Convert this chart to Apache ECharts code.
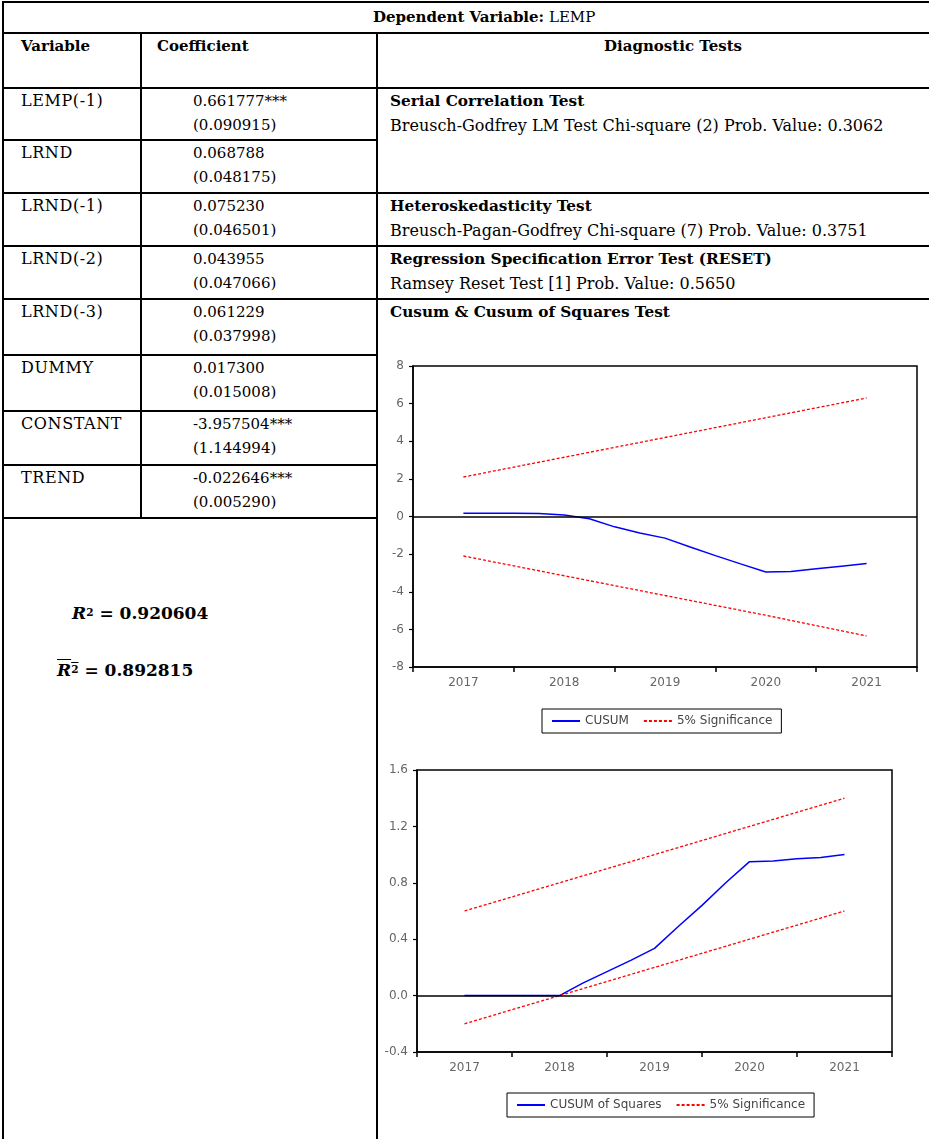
<!DOCTYPE html>
<html><head><meta charset="utf-8">
<script src="https://cdn.jsdelivr.net/npm/echarts@6/dist/echarts.min.js"></script>
<style>
html,body{margin:0;padding:0;background:#fff;}
#page{position:relative;width:929px;height:1139px;overflow:hidden;font-family:"DejaVu Serif",serif;font-size:15px;color:#000;}
.h{position:absolute;height:2px;background:#000;}
.v{position:absolute;width:2px;background:#000;}
.t{position:absolute;white-space:nowrap;line-height:20px;}
.b{font-weight:bold;}
.bt{font-weight:bold;font-size:15.3px;}
.w{font-size:16px;}
.nm{font-size:16px;letter-spacing:0.6px;}
.r2{font-family:"DejaVu Serif",serif;font-weight:bold;font-size:17px;}
.r2 sup{font-size:0.62em;position:relative;top:-0.05em;vertical-align:top;}
#chart{position:absolute;left:0;top:0;width:929px;height:1139px;}
</style></head>
<body>
<div id="page"><div id="chart"></div></div>
<script>
// ---------- data ----------
const dependentVariable = 'LEMP';
const variables = ['LEMP(-1)','LRND','LRND(-1)','LRND(-2)','LRND(-3)','DUMMY','CONSTANT','TREND'];
const coefficients = ['0.661777***','0.068788','0.075230','0.043955','0.061229','0.017300','-3.957504***','-0.022646***'];
const stdErrors = ['(0.090915)','(0.048175)','(0.046501)','(0.047066)','(0.037998)','(0.015008)','(1.144994)','(0.005290)'];
const diagTitles = ['Serial Correlation Test','Heteroskedasticity Test','Regression Specification Error Test (RESET)','Cusum & Cusum of Squares Test'];
const diagDetails = ['Breusch-Godfrey LM Test Chi-square (2) Prob. Value: 0.3062','Breusch-Pagan-Godfrey Chi-square (7) Prob. Value: 0.3751','Ramsey Reset Test [1] Prob. Value: 0.5650',''];
const rSquared = '0.920604';
const adjRSquared = '0.892815';

const quarters = ['2016Q3','2016Q4','2017Q1','2017Q2','2017Q3','2017Q4','2018Q1','2018Q2','2018Q3','2018Q4',
  '2019Q1','2019Q2','2019Q3','2019Q4','2020Q1','2020Q2','2020Q3','2020Q4','2021Q1','2021Q2','2021Q3'];
const observations = ['2017Q1','2017Q2','2017Q3','2017Q4','2018Q1','2018Q2','2018Q3','2018Q4',
  '2019Q1','2019Q2','2019Q3','2019Q4','2020Q1','2020Q2','2020Q3','2020Q4','2021Q1'];
const cusum = [0.17,0.17,0.17,0.16,0.08,-0.12,-0.55,-0.88,-1.15,-1.62,-2.08,-2.52,-2.95,-2.92,-2.78,-2.64,-2.50];
const cusumSq = [0.0,0.0,0.0,0.0,0.0,0.09,0.17,0.25,0.335,0.49,0.64,0.80,0.95,0.955,0.97,0.98,1.0];
const boundYears = ['2017Q1','2018Q1','2019Q1','2020Q1','2021Q1'];
const cusumUpper = [2.1,3.15,4.2,5.25,6.3];
const cusumLower = [-2.1,-3.15,-4.2,-5.25,-6.35];
const sqUpper = [0.6,0.8,1.0,1.2,1.4];
const sqLower = [-0.2,0.0,0.2,0.4,0.6];
const cusumTicks = {min:-8,max:8,interval:2};
const sqTicks = {min:-0.4,max:1.6,interval:0.4};

// ---------- table ----------
const page = document.getElementById('page');
function add(cls, style, html){const d=document.createElement('div');d.className=cls;d.setAttribute('style',style);if(html!==undefined)d.innerHTML=html;page.insertBefore(d,document.getElementById('chart'));return d;}
function hline(y,x1,x2){add('h',`top:${y}px;left:${x1}px;width:${x2-x1}px`);}
function vline(x,y1,y2){add('v',`left:${x}px;top:${y1}px;height:${y2-y1}px`);}
function text(x,cy,html,cls){add('t'+(cls?' '+cls:''),`left:${x}px;top:${cy-10}px`,html);}

const rowTops=[87,139,192,245,298,354,410,464,517];
const fullRows=[192,245,298];
hline(1,2,929); hline(32,2,929); hline(87,2,929);
rowTops.slice(1).forEach(y=>hline(y,2,377));
fullRows.forEach(y=>hline(y,376,929));
vline(2,1,1139); vline(140,32,519); vline(376,32,1139);

text(373,17,'<b>Dependent Variable:</b> '+dependentVariable);
text(21,46,'Variable','b'); text(157,46,'Coefficient','b'); text(604,46,'Diagnostic Tests','b');
variables.forEach((v,i)=>{const y=rowTops[i];text(21,y+14,v,'nm');text(193,y+14,coefficients[i]);text(193,y+38,stdErrors[i]);});
const diagTops=[87,192,245,298];
diagTitles.forEach((t,i)=>{text(390,diagTops[i]+14,t,'bt');if(diagDetails[i])text(390,diagTops[i]+39,diagDetails[i],'w');});
text(72,613,'<i>R</i><sup>2</sup> = '+rSquared,'r2');
text(57,670,'<span style="text-decoration:overline"><i>R</i><sup>2</sup></span> = '+adjRSquared,'r2');

// ---------- charts ----------
const chart = echarts.init(document.getElementById('chart'),null,{renderer:'canvas'});
const lblFont = {fontFamily:'DejaVu Sans',fontSize:12,color:'#666'};
function xAxisFor(g){return {type:'category',gridIndex:g,data:quarters,boundaryGap:false,
  axisLine:{onZero:false,lineStyle:{color:'#000',width:1.5}},
  axisTick:{show:true,interval:(i,v)=>v.endsWith('Q3'),length:5,lineStyle:{color:'#000',width:1.5}},
  axisLabel:Object.assign({interval:(i,v)=>v.endsWith('Q1'),formatter:v=>v.slice(0,4),margin:10},lblFont),
  splitLine:{show:false}};}
function yAxisFor(g,t,fmt){return {type:'value',gridIndex:g,min:t.min,max:t.max,interval:t.interval,
  axisLine:{show:true,lineStyle:{color:'#000',width:1.5}},
  axisTick:{show:true,length:4,lineStyle:{color:'#000',width:1.2}},
  axisLabel:Object.assign({margin:9,formatter:fmt},lblFont),splitLine:{show:false}};}
const zeroLine={silent:true,symbol:['none','none'],label:{show:false},lineStyle:{color:'#000',type:'solid',width:1.5},data:[{yAxis:0}]};
const blue={color:'#0000ff',width:1.5,type:'solid'};
const red={color:'#ff0000',width:1.3,type:[3,2]};
const pairs=(xs,ys)=>xs.map((x,i)=>[x,ys[i]]);
function lineSeries(name,g,data,style,extra){return Object.assign({type:'line',name,xAxisIndex:g,yAxisIndex:g,data,symbol:'none',showSymbol:false,lineStyle:style,itemStyle:{color:style.color},z:3},extra||{});}
const legendBase={borderColor:'#000',borderWidth:1,padding:[6,9],itemWidth:28,itemHeight:10,itemGap:14,
  itemStyle:{opacity:0},textStyle:{fontFamily:'DejaVu Sans',fontSize:12,color:'#444'}};

chart.setOption({
  animation:false,
  grid:[{left:413,top:366,width:504,height:301,show:true,borderColor:'#000',borderWidth:1.5,containLabel:false},
        {left:417,top:770,width:475,height:282,show:true,borderColor:'#000',borderWidth:1.5,containLabel:false}],
  xAxis:[xAxisFor(0),xAxisFor(1)],
  yAxis:[yAxisFor(0,cusumTicks,v=>String(v)),yAxisFor(1,sqTicks,v=>v.toFixed(1))],
  legend:[
    Object.assign({data:['CUSUM','5% Significance'],left:542,top:709},legendBase),
    Object.assign({data:['CUSUM of Squares','5% Significance'],left:507,top:1093},legendBase)
  ],
  series:[
    lineSeries('CUSUM',0,pairs(observations,cusum),blue,{markLine:zeroLine}),
    lineSeries('5% Significance',0,pairs(boundYears,cusumUpper),red),
    lineSeries('5% Significance',0,pairs(boundYears,cusumLower),red),
    lineSeries('CUSUM of Squares',1,pairs(observations,cusumSq),blue,{markLine:zeroLine}),
    lineSeries('5% Significance',1,pairs(boundYears,sqUpper),red),
    lineSeries('5% Significance',1,pairs(boundYears,sqLower),red)
  ]
});
</script>
</body></html>
